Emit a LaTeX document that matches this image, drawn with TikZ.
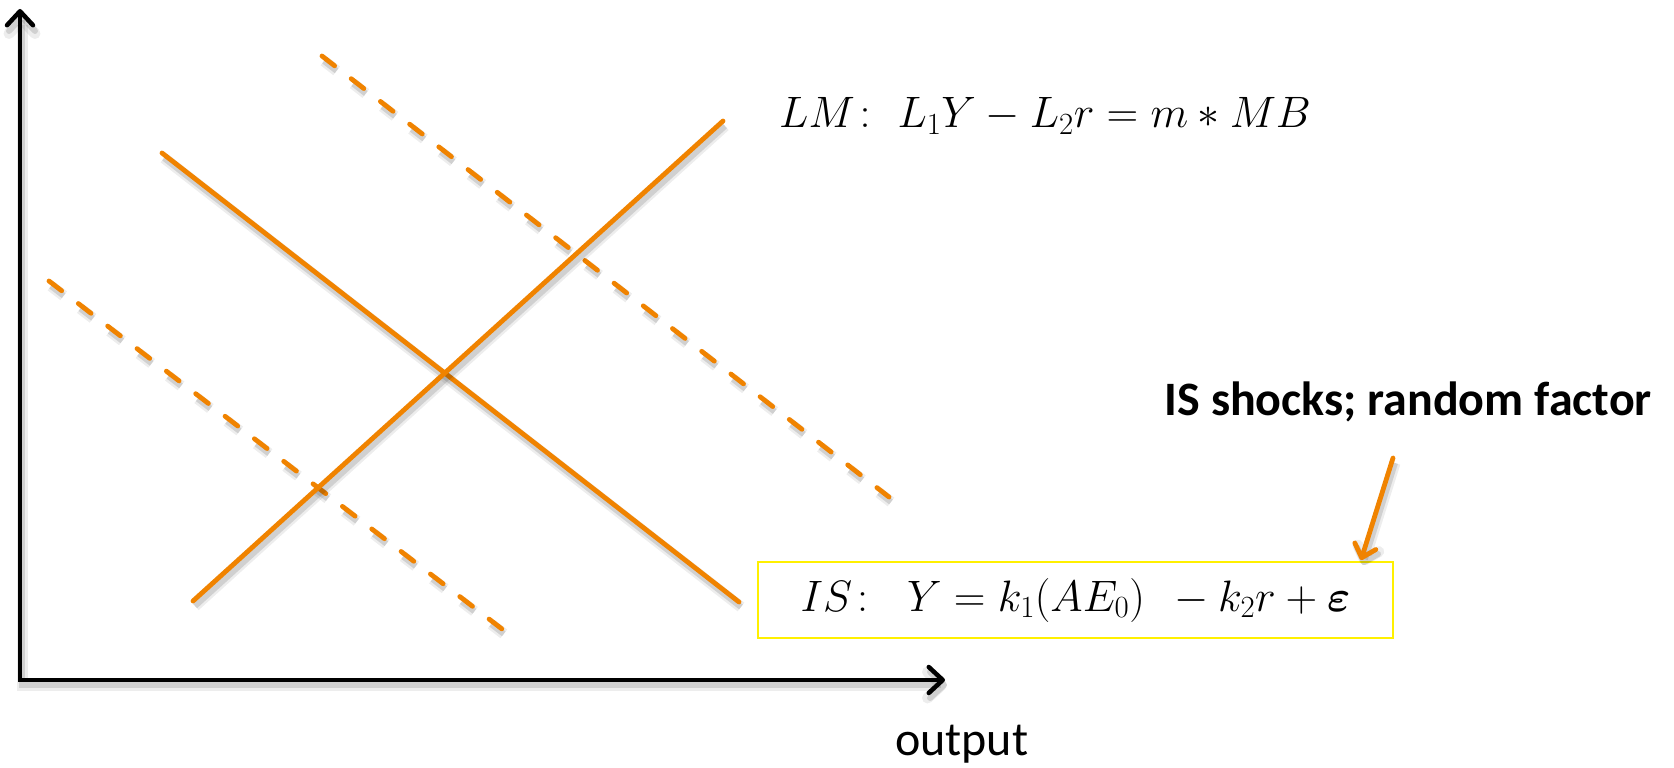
\documentclass[tikz,border=0pt]{standalone}
\usepackage{fix-cm}
\usepackage{amsmath}
\usepackage{fontspec}
\newfontfamily\calibri{Carlito}
\usetikzlibrary{arrows.meta}
\definecolor{lineorange}{RGB}{240,131,0}
\definecolor{boxyellow}{RGB}{255,240,0}
\tikzset{
  shadowed/.style={
      preaction={draw=black, draw opacity=.07, line width=11pt,
        transform canvas={shift={(2pt,-5pt)}}},
      preaction={draw=black, draw opacity=.12, line width=6pt,
        transform canvas={shift={(2pt,-5pt)}}}},
  dashshadowed/.style={
      preaction={draw=black, draw opacity=.07, line width=11pt, dash pattern=on 16pt off 21pt,
        transform canvas={shift={(2pt,-5pt)}}},
      preaction={draw=black, draw opacity=.12, line width=6pt, dash pattern=on 16pt off 21pt,
        transform canvas={shift={(2pt,-5pt)}}}},
  curve/.style={draw=lineorange, line width=4.8pt, line cap=round, shadowed},
  dashcurve/.style={draw=lineorange, line width=4.8pt, line cap=round,
      dash pattern=on 16pt off 21pt, dashshadowed},
  axis/.style={draw=black, line width=4.5pt, shadowed},
  matheq/.style={font=\fontsize{44}{52}\selectfont, inner sep=0pt},
  sanslabel/.style={font=\calibri\fontsize{48}{56}\selectfont, inner sep=0pt},
}
\begin{document}
\begin{tikzpicture}[x=1pt, y=-1pt]
  \useasboundingbox (0,0) rectangle (1674,768);
  % axes
  \coordinate (origin) at (20,680);
  \coordinate (ytip) at (20,9);
  \coordinate (xtip) at (945,680);
  \draw[axis, {Straight Barb[length=14pt, width=26pt, round]}-{Straight Barb[length=14pt, width=26pt, round]}]
    (ytip) -- (origin) -- (xtip);
  % curves
  \coordinate (lmA) at (193,601);
  \coordinate (lmB) at (723,121);
  \coordinate (isA) at (162,153);
  \coordinate (isB) at (739,602);
  \coordinate (isUpA) at (322,56);
  \coordinate (isUpB) at (889,497);
  \coordinate (isDnA) at (49,281);
  \coordinate (isDnB) at (502,629);
  \draw[dashcurve] (isUpA) -- (isUpB);
  \draw[dashcurve] (isDnA) -- (isDnB);
  \draw[curve] (isA) -- (isB);
  \draw[curve] (lmA) -- (lmB);
  % labels
  \node[matheq, anchor=base west] (lmeq) at (779,128)
    {$LM\colon\; L_1Y - L_2r = m * MB$};
  \node[draw=boxyellow, line width=2pt, minimum width=635pt, minimum height=76pt,
        font=\fontsize{44}{52}\selectfont, inner sep=0pt] (iseq) at (1075.5,600)
    {$IS\colon\;\; Y = k_1(AE_0)\;\, - k_2r + \boldsymbol{\varepsilon}$};
  \node[sanslabel, anchor=base east] (shock) at (1652,415)
    {\bfseries IS shocks; random factor};
  \coordinate (shockFrom) at (1393,458);
  \coordinate (shockTo) at (1361,560);
  \draw[curve, -{Straight Barb[length=12pt, width=22pt, round]}] (shockFrom) -- (shockTo);
  \node[sanslabel, anchor=base west] (output) at (895,755) {output};
\end{tikzpicture}
\end{document}
